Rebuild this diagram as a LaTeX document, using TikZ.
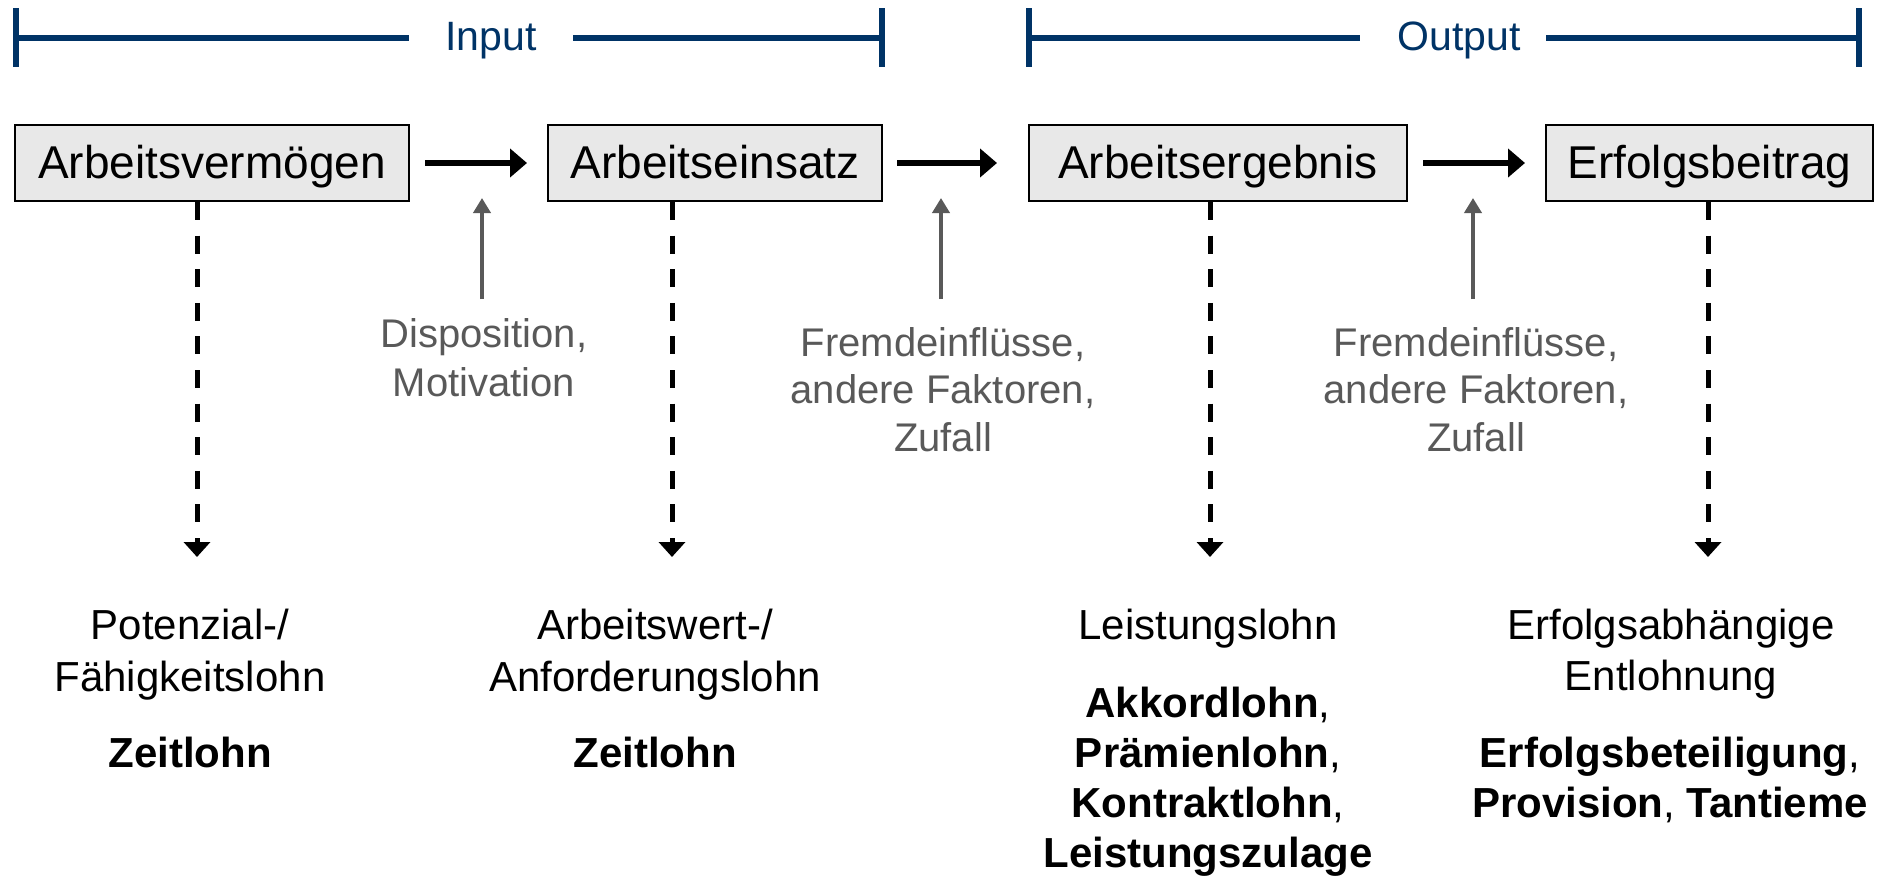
\documentclass[tikz,border=0pt]{standalone}
\usepackage{fontspec}
\setmainfont{Liberation Sans}
\usetikzlibrary{arrows.meta}
\definecolor{navy}{HTML}{003366}
\definecolor{dgray}{HTML}{595959}
\definecolor{boxfill}{HTML}{E8E8E8}
\begin{document}
\begin{tikzpicture}[x=0.5pt,y=-0.5pt,
  stage/.style={draw=black, line width=1pt, fill=boxfill, minimum height=38pt, inner sep=0pt, text height=17pt, text depth=2pt, font=\fontsize{23}{27}\selectfont},
  flow/.style={line width=3pt, -{Triangle[length=8.5pt,width=14pt]}},
  infl/.style={draw=dgray, line width=2pt, -{Triangle[length=7.5pt,width=8.5pt]}},
  result/.style={line width=2.5pt, dash pattern=on 9pt off 7.8pt, -{Triangle[length=7.5pt,width=13pt]}},
  brk/.style={draw=navy, line width=3pt},
  head/.style={text=navy, font=\fontsize{20.5}{24}\selectfont, anchor=base, inner sep=0pt},
  note/.style={text=dgray, font=\fontsize{20}{24}\selectfont, anchor=base, inner sep=0pt},
  lbl/.style={font=\fontsize{21}{25}\selectfont, anchor=base, inner sep=0pt},
]
\useasboundingbox (0,0) rectangle (1885,878);

% brackets
\node[head] (in1) at (491,50) {Input};
\node[head] (out1) at (1459,50) {Output};
\coordinate (iL) at (16,37.5);
\coordinate (iR) at (882,37.5);
\coordinate (oL) at (1029,37.5);
\coordinate (oR) at (1859,37.5);
\draw[brk] (16,8) -- (16,67);
\draw[brk] (882,8) -- (882,67);
\draw[brk] (iL) -- (409,37.5);
\draw[brk] (573,37.5) -- (iR);
\draw[brk] (1029,8) -- (1029,67);
\draw[brk] (1859,8) -- (1859,67);
\draw[brk] (oL) -- (1360,37.5);
\draw[brk] (1546,37.5) -- (oR);

% boxes
\node[stage, minimum width=197pt] (b1) at (212,163) {Arbeitsvermögen};
\node[stage, minimum width=167pt] (b2) at (715,163) {Arbeitseinsatz};
\node[stage, minimum width=189pt] (b3) at (1218,163) {Arbeitsergebnis};
\node[stage, minimum width=163.5pt] (b4) at (1709.5,163) {Erfolgsbeitrag};

% flow arrows
\draw[flow] ([xshift=7.5pt]b1.east) -- ([xshift=-10pt]b2.west);
\draw[flow] ([xshift=7pt]b2.east) -- ([xshift=-15.5pt]b3.west);
\draw[flow] ([xshift=7.5pt]b3.east) -- ([xshift=-10pt]b4.west);

% influences
\coordinate (g1s) at (482,299); \coordinate (g1e) at (482,198);
\coordinate (g2s) at (941,299); \coordinate (g2e) at (941,198);
\coordinate (g3s) at (1473,299); \coordinate (g3e) at (1473,198);
\draw[infl] (g1s) -- (g1e);
\draw[infl] (g2s) -- (g2e);
\draw[infl] (g3s) -- (g3e);

\node[note] (d1) at (484,347) {Disposition,};
\node[note] (d2) at (484,396) {Motivation};
\node[note] (f1) at (943,356) {Fremdeinflüsse,};
\node[note] (f2) at (943,403) {andere Faktoren,};
\node[note] (f3) at (943,451) {Zufall};
\node[note] (h1) at (1476,356) {Fremdeinflüsse,};
\node[note] (h2) at (1476,403) {andere Faktoren,};
\node[note] (h3) at (1476,451) {Zufall};

% dashed result arrows
\coordinate (r1) at (197,557);
\coordinate (r2) at (672,557);
\coordinate (r3) at (1210,557);
\coordinate (r4) at (1708,557);
\draw[result] (b1.south -| r1) -- (r1);
\draw[result] (b2.south -| r2) -- (r2);
\draw[result] (b3.south -| r3) -- (r3);
\draw[result] (b4.south -| r4) -- (r4);

% bottom labels
\node[lbl] (p1) at (190,639) {Potenzial-/};
\node[lbl] (p2) at (190,691) {Fähigkeitslohn};
\node[lbl] (p3) at (190,767) {\textbf{Zeitlohn}};

\node[lbl] (a1) at (655,639) {Arbeitswert-/};
\node[lbl] (a2) at (655,691) {Anforderungslohn};
\node[lbl] (a3) at (655,767) {\textbf{Zeitlohn}};

\node[lbl] (l1) at (1208,639) {Leistungslohn};
\node[lbl] (l2) at (1208,717) {\textbf{Akkordlohn},};
\node[lbl] (l3) at (1208,767) {\textbf{Prämienlohn},};
\node[lbl] (l4) at (1208,817) {\textbf{Kontraktlohn},};
\node[lbl] (l5) at (1208,867) {\textbf{Leistungszulage}};

\node[lbl] (e1) at (1671,639) {Erfolgsabhängige};
\node[lbl] (e2) at (1671,690) {Entlohnung};
\node[lbl] (e3) at (1670,767) {\textbf{Erfolgsbeteiligung},};
\node[lbl] (e4) at (1670,817) {\textbf{Provision}, \textbf{Tantieme}};
\end{tikzpicture}
\end{document}
